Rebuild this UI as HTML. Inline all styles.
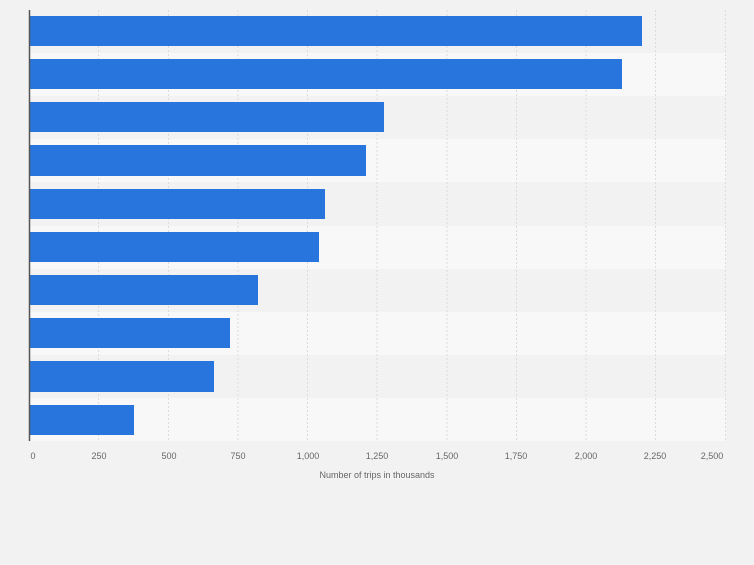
<!DOCTYPE html>
<html><head><style>
body{margin:0;width:754px;height:560px;background:#f2f2f2;font-family:"Liberation Sans",sans-serif;overflow:hidden}
</style></head><body>
<svg width="754" height="560" xmlns="http://www.w3.org/2000/svg">
<rect width="754" height="560" fill="#f2f2f2"/>
<g>
<rect x="30" y="10" width="696" height="43" fill="#f2f2f2"/>
<rect x="30" y="53" width="696" height="43" fill="#f8f8f8"/>
<rect x="30" y="96" width="696" height="43" fill="#f2f2f2"/>
<rect x="30" y="139" width="696" height="43" fill="#f8f8f8"/>
<rect x="30" y="182" width="696" height="44" fill="#f2f2f2"/>
<rect x="30" y="226" width="696" height="43" fill="#f8f8f8"/>
<rect x="30" y="269" width="696" height="43" fill="#f2f2f2"/>
<rect x="30" y="312" width="696" height="43" fill="#f8f8f8"/>
<rect x="30" y="355" width="696" height="43" fill="#f2f2f2"/>
<rect x="30" y="398" width="696" height="43" fill="#f8f8f8"/>
</g>
<g stroke="#dcdcdc" stroke-width="1" stroke-dasharray="2,2">
<line x1="98.5" y1="10" x2="98.5" y2="441"/>
<line x1="168.5" y1="10" x2="168.5" y2="441"/>
<line x1="238" y1="10" x2="238" y2="441"/>
<line x1="307.5" y1="10" x2="307.5" y2="441"/>
<line x1="377" y1="10" x2="377" y2="441"/>
<line x1="447" y1="10" x2="447" y2="441"/>
<line x1="516.5" y1="10" x2="516.5" y2="441"/>
<line x1="586" y1="10" x2="586" y2="441"/>
<line x1="655.5" y1="10" x2="655.5" y2="441"/>
<line x1="725.5" y1="10" x2="725.5" y2="441"/>
</g>
<g fill="#2876dd">
<rect x="30" y="16" width="612" height="30"/>
<rect x="30" y="59" width="592" height="30"/>
<rect x="30" y="102" width="354" height="30"/>
<rect x="30" y="145" width="336" height="31"/>
<rect x="30" y="189" width="295" height="30"/>
<rect x="30" y="232" width="289" height="30"/>
<rect x="30" y="275" width="228" height="30"/>
<rect x="30" y="318" width="200" height="30"/>
<rect x="30" y="361" width="184" height="31"/>
<rect x="30" y="405" width="104" height="30"/>
</g>
<line x1="29.5" y1="10" x2="29.5" y2="441" stroke="#555" stroke-width="1.5"/>
<g font-size="9" fill="#666" text-anchor="middle">
<text x="33" y="459">0</text>
<text x="99" y="459">250</text>
<text x="169" y="459">500</text>
<text x="238" y="459">750</text>
<text x="308" y="459">1,000</text>
<text x="377" y="459">1,250</text>
<text x="447" y="459">1,500</text>
<text x="516" y="459">1,750</text>
<text x="586" y="459">2,000</text>
<text x="655" y="459">2,250</text>
<text x="712" y="459">2,500</text>
<text x="377" y="478">Number of trips in thousands</text>
</g>
</svg>
</body></html>
